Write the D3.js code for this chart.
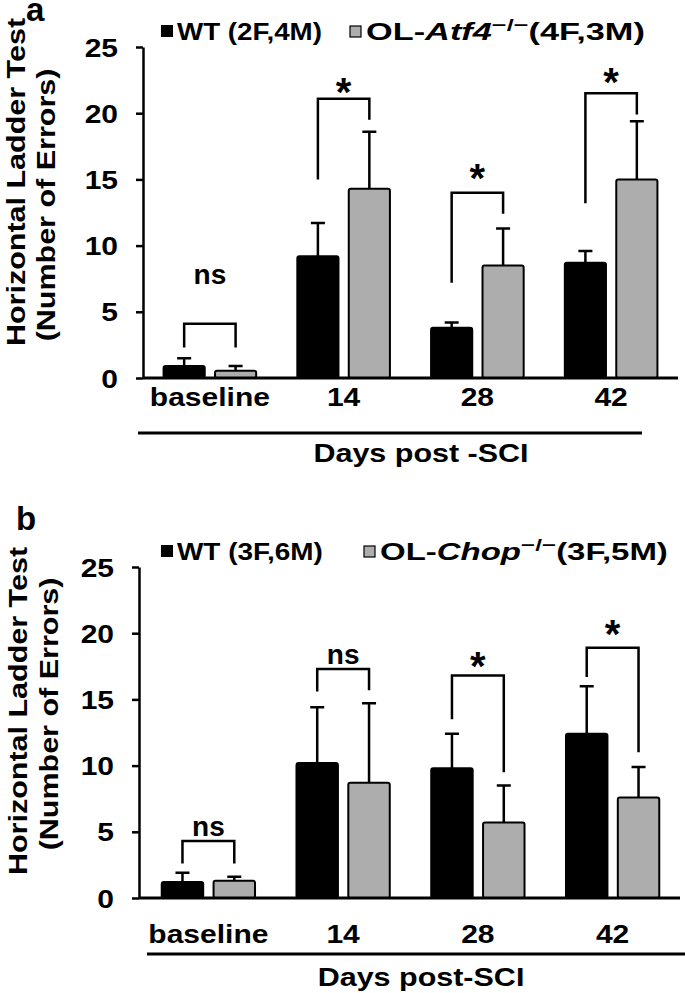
<!DOCTYPE html>
<html>
<head>
<meta charset="utf-8">
<script src="https://cdn.jsdelivr.net/npm/d3@7"></script>
<style>
  html, body { margin: 0; padding: 0; background: #fff; }
  svg { display: block; }
</style>
</head>
<body>
<div id="graphic"></div>
<script>
'use strict';
(function (d3) {
  // categories
  const groups = [`baseline`, `14`, `28`, `42`];
  const yTicks = [0, 5, 10, 15, 20, 25];

  // panel a: means and upper SEM
  const wtMeanA = [0.9, 9.2, 3.8, 8.7];
  const wtErrA = [0.6, 2.5, 0.4, 0.9];
  const olMeanA = [0.55, 14.3, 8.5, 15.0];
  const olErrA = [0.35, 4.3, 2.8, 4.4];
  // panel a: significance brackets (data units)
  const sigA = [`ns`, `*`, `*`, `*`];
  const bracketTopA = [4.1, 21.1, 14.0, 21.5];
  const legLeftA = [2.3, 15.0, 7.2, 13.2];
  const legRightA = [2.3, 19.5, 12.4, 19.9];
  const sigYA = [7.7, 22.3, 15.8, 23.0];

  // panel b
  const wtMeanB = [1.2, 10.2, 9.8, 12.4];
  const wtErrB = [0.7, 4.2, 2.6, 3.6];
  const olMeanB = [1.3, 8.7, 5.7, 7.6];
  const olErrB = [0.3, 6.0, 2.8, 2.3];
  const sigB = [`ns`, `ns`, `*`, `*`];
  const bracketTopB = [4.3, 17.3, 16.8, 18.9];
  const legLeftB = [2.6, 15.6, 13.5, 16.7];
  const legRightB = [2.6, 15.7, 9.5, 11.0];
  const sigYB = [5.3, 18.3, 18.2, 20.6];

  const font = `"Liberation Sans", Arial, Helvetica, sans-serif`;
  const grey = `#adadad`;
  const lw = 2.5;
  const fs = 25; // base font size
  const sx = 1.2; // horizontal stretch of the lettering

  const svg = d3
    .select(`div#graphic`)
    .append(`svg`)
    .attr(`width`, 685)
    .attr(`height`, 993)
    .attr(`font-family`, font)
    .attr(`font-weight`, `bold`);

  svg.append(`rect`).attr(`width`, 685).attr(`height`, 993).attr(`fill`, `#fff`);

  // text stretched along its own direction
  const stext = (parent, x, y, str, opts = {}) =>
    parent
      .append(`text`)
      .attr(`transform`, `translate(${x},${y})${opts.rotate ? ` rotate(${opts.rotate})` : ``} scale(${opts.s || sx},1)`)
      .attr(`text-anchor`, opts.anchor || `middle`)
      .attr(`font-size`, opts.size || fs)
      .text(str);

  // fit a text between x1 and x2 (left anchored)
  const fitText = (sel, x1, x2, y) => {
    const w = sel.node().getBBox().width;
    sel.attr(`transform`, `translate(${x1},${y}) scale(${(x2 - x1) / w},1)`);
  };

  const drawPanel = (p) => {
    const g = svg.append(`g`);

    const y = d3.scaleLinear().domain([0, 25]).range([p.y0, p.y0 - 331]);
    const x0 = d3.scaleBand().domain(groups).range([p.bandStart, p.bandEnd]);
    const x1 = d3
      .scaleBand()
      .domain([`wt`, `ol`])
      .range([0, x0.bandwidth()])
      .paddingInner(0.2)
      .paddingOuter(0.4);

    const rows = groups.map((grp, i) => ({
      grp: grp,
      bars: [
        { key: `wt`, mean: p.wtMean[i], err: p.wtErr[i], fill: `#000` },
        { key: `ol`, mean: p.olMean[i], err: p.olErr[i], fill: grey }
      ],
      sig: p.sig[i],
      top: p.bracketTop[i],
      legL: p.legLeft[i],
      legR: p.legRight[i],
      sigY: p.sigY[i]
    }));

    const barCx = (grp, key) => x0(grp) + x1(key) + x1.bandwidth() / 2;

    // panel letter
    g.append(`text`)
      .attr(`x`, p.letterX)
      .attr(`y`, p.letterY)
      .attr(`font-size`, 33)
      .text(p.letter);

    // y axis
    const yAxis = g
      .append(`g`)
      .attr(`transform`, `translate(${p.axisX},0)`)
      .call(d3.axisLeft(y).tickValues(yTicks).tickSize(7).tickSizeOuter(0).tickPadding(18));
    yAxis.select(`.domain`).attr(`stroke-width`, lw);
    yAxis.selectAll(`.tick line`).attr(`stroke-width`, lw);
    yAxis
      .selectAll(`.tick text`)
      .attr(`font-family`, font)
      .attr(`font-weight`, `bold`)
      .attr(`font-size`, fs)
      .attr(`fill`, `#000`)
      .attr(`x`, 0)
      .attr(`dy`, `0.36em`)
      .attr(`transform`, `translate(-25,0) scale(${sx},1)`);

    // y axis title
    stext(g, p.yTitleX1, p.yTitleC1, `Horizontal Ladder Test`, { rotate: -90, s: 1.22 });
    stext(g, p.yTitleX2, p.yTitleC2, `(Number of Errors)`, { rotate: -90, s: 1.22 });

    // bars
    const grpG = g
      .selectAll(`g.grp`)
      .data(rows)
      .join(`g`)
      .attr(`class`, `grp`)
      .attr(`transform`, (d) => `translate(${x0(d.grp)},0)`);

    // error bars (upper only)
    grpG
      .selectAll(`path.err`)
      .data((d) => d.bars)
      .join(`path`)
      .attr(`class`, `err`)
      .attr(`fill`, `none`)
      .attr(`stroke`, `#000`)
      .attr(`stroke-width`, lw)
      .attr(`d`, (d) => {
        const cx = x1(d.key) + x1.bandwidth() / 2;
        const yt = y(d.mean + d.err);
        return `M${cx},${y(d.mean)}V${yt}M${cx - 7},${yt}H${cx + 7}`;
      });

    grpG
      .selectAll(`rect`)
      .data((d) => d.bars)
      .join(`rect`)
      .attr(`x`, (d) => x1(d.key))
      .attr(`width`, x1.bandwidth())
      .attr(`y`, (d) => y(d.mean))
      .attr(`height`, (d) => y(0) - y(d.mean))
      .attr(`rx`, 2)
      .attr(`fill`, (d) => d.fill)
      .attr(`stroke`, `#000`)
      .attr(`stroke-width`, 2);

    // x axis line
    g.append(`line`)
      .attr(`x1`, p.axisX)
      .attr(`x2`, p.bandEnd)
      .attr(`y1`, y(0))
      .attr(`y2`, y(0))
      .attr(`stroke`, `#000`)
      .attr(`stroke-width`, lw + 0.5);

    // brackets
    g.append(`g`)
      .selectAll(`path`)
      .data(rows)
      .join(`path`)
      .attr(`fill`, `none`)
      .attr(`stroke`, `#000`)
      .attr(`stroke-width`, lw)
      .attr(
        `d`,
        (d) =>
          `M${barCx(d.grp, `wt`)},${y(d.legL)}V${y(d.top)}H${barCx(d.grp, `ol`)}V${y(d.legR)}`
      );

    g.append(`g`)
      .attr(`text-anchor`, `middle`)
      .selectAll(`text`)
      .data(rows)
      .join(`text`)
      .attr(`x`, (d) => (barCx(d.grp, `wt`) + barCx(d.grp, `ol`)) / 2)
      .attr(`y`, (d) => y(d.sigY) + (d.sig === `*` ? 23 : 8))
      .attr(`font-size`, (d) => (d.sig === `*` ? 40 : 28))
      .text((d) => d.sig);

    // category labels
    groups.forEach((d) => stext(g, x0(d) + x0.bandwidth() / 2, p.y0 + p.tickDy, d));

    g.append(`line`)
      .attr(`x1`, p.ulX1)
      .attr(`x2`, p.ulX2)
      .attr(`y1`, p.y0 + p.ulDy)
      .attr(`y2`, p.y0 + p.ulDy)
      .attr(`stroke`, `#000`)
      .attr(`stroke-width`, 3);

    stext(g, 421, p.y0 + p.titleDy, p.xTitle, { s: 1.22 });

    // legend
    const lg = g.append(`g`).attr(`font-size`, 23);
    lg.append(`rect`)
      .attr(`x`, 161)
      .attr(`y`, p.legY - 15)
      .attr(`width`, 12)
      .attr(`height`, 12)
      .attr(`fill`, `#000`);
    const t1 = lg.append(`text`).text(p.wtLabel);
    fitText(t1, 177, p.wtEnd, p.legY);
    lg.append(`rect`)
      .attr(`x`, p.legX2)
      .attr(`y`, p.legY - 14)
      .attr(`width`, 11)
      .attr(`height`, 11)
      .attr(`fill`, grey)
      .attr(`stroke`, `#000`)
      .attr(`stroke-width`, 1.2);
    const t2 = lg.append(`text`);
    t2.append(`tspan`).text(`OL-`);
    t2.append(`tspan`).attr(`font-style`, `italic`).text(p.gene);
    t2.append(`tspan`).attr(`font-size`, 17).attr(`dy`, -9).text(`\u2212/\u2212`);
    t2.append(`tspan`).attr(`dy`, 9).text(p.olCount);
    fitText(t2, p.legX2 + 16, p.olEnd, p.legY);
  };

  drawPanel({
    letter: `a`,
    letterX: 26,
    letterY: 21,
    y0: 378,
    axisX: 143,
    bandStart: 143,
    bandEnd: 678,
    wtMean: wtMeanA,
    wtErr: wtErrA,
    olMean: olMeanA,
    olErr: olErrA,
    sig: sigA,
    bracketTop: bracketTopA,
    legLeft: legLeftA,
    legRight: legRightA,
    sigY: sigYA,
    yTitleX1: 25,
    yTitleC1: 182,
    yTitleX2: 55,
    yTitleC2: 205,
    tickDy: 28,
    ulDy: 55,
    ulX1: 138,
    ulX2: 642,
    titleDy: 84,
    xTitle: `Days post -SCI`,
    legY: 40,
    wtEnd: 322,
    legX2: 350,
    olEnd: 645,
    wtLabel: `WT (2F,4M)`,
    gene: `Atf4`,
    olCount: `(4F,3M)`
  });

  drawPanel({
    letter: `b`,
    letterX: 16,
    letterY: 530,
    y0: 898,
    axisX: 139,
    bandStart: 141,
    bandEnd: 680,
    wtMean: wtMeanB,
    wtErr: wtErrB,
    olMean: olMeanB,
    olErr: olErrB,
    sig: sigB,
    bracketTop: bracketTopB,
    legLeft: legLeftB,
    legRight: legRightB,
    sigY: sigYB,
    yTitleX1: 27,
    yTitleC1: 711,
    yTitleX2: 58,
    yTitleC2: 714,
    tickDy: 45,
    ulDy: 56,
    ulX1: 147,
    ulX2: 685,
    titleDy: 88,
    xTitle: `Days post-SCI`,
    legY: 560,
    wtEnd: 323,
    legX2: 364,
    olEnd: 668,
    wtLabel: `WT (3F,6M)`,
    gene: `Chop`,
    olCount: `(3F,5M)`
  });
})(d3);
</script>
</body>
</html>
